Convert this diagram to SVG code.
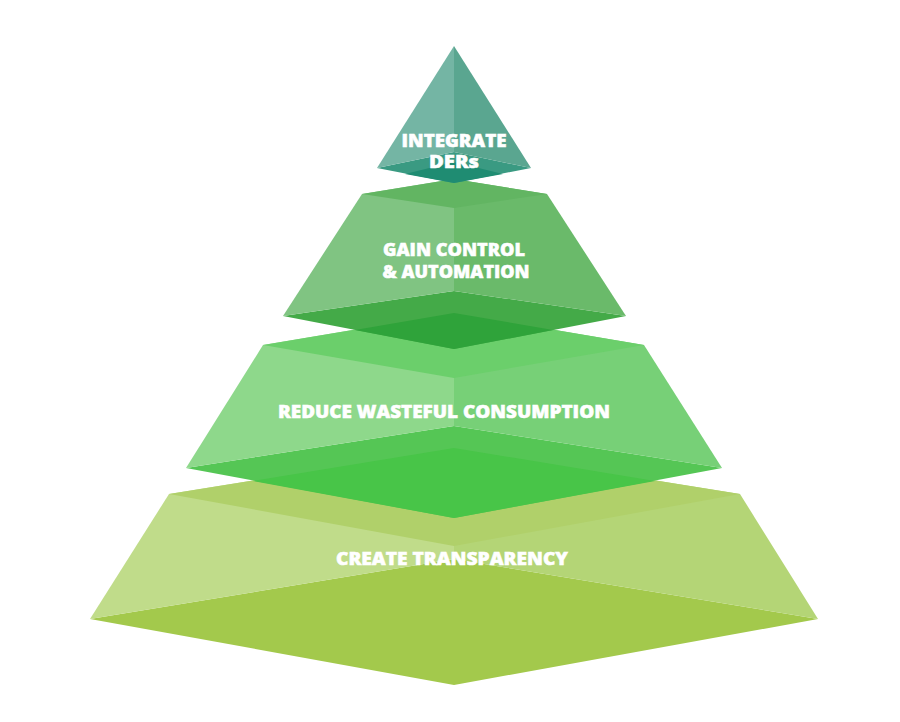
<svg xmlns="http://www.w3.org/2000/svg" width="900" height="722" viewBox="0 0 900 722">
  <style>
    .lbl { font-family: "Open Sans", "Roboto", "Liberation Sans", sans-serif; font-weight: 800; font-size: 17px; fill: #ffffff; stroke: #ffffff; stroke-width: 0.5; text-anchor: middle; }
  </style>
  <rect width="900" height="722" fill="#ffffff"/>

  <g id="level4">
    <polygon points="90,619 454,559 818,619 454,685" fill="#a3c94c"/>
    <polygon points="169,494 454,448 454,559 90,619" fill="#c0dc8a"/>
    <polygon points="454,448 740,494 818,619 454,559" fill="#b4d576"/>
    <polygon points="169,494 454,448 740,494 454,546" fill="#b0d06a"/>
    <text class="lbl" x="452" y="565" textLength="232" lengthAdjust="spacingAndGlyphs">CREATE TRANSPARENCY</text>
  </g>

  <g id="level3">
    <polygon points="186,468 454,426 722,468 454,518" fill="#55c655"/>
    <polygon points="253,481 454,448 655,481 454,518" fill="#48c548"/>
    <polygon points="263,345 454,313 454,426 186,468" fill="#8ed88b"/>
    <polygon points="454,313 644,345 722,468 454,426" fill="#77d077"/>
    <polygon points="263,345 454,313 644,345 454,378" fill="#6bcf6b"/>
    <text class="lbl" x="444" y="418" textLength="332" lengthAdjust="spacingAndGlyphs">REDUCE WASTEFUL CONSUMPTION</text>
  </g>

  <g id="level2">
    <polygon points="283,316 454,291 626,316 454,349" fill="#44aa48"/>
    <polygon points="355,330 454,313 553,330 454,349" fill="#2fa33a"/>
    <polygon points="362,194 454,179 454,291 283,316" fill="#80c482"/>
    <polygon points="454,179 547,194 626,316 454,291" fill="#6aba6a"/>
    <polygon points="362,194 454,179 547,194 454,208" fill="#62b562"/>
    <text class="lbl" x="454" y="256" textLength="142" lengthAdjust="spacingAndGlyphs">GAIN CONTROL</text>
    <text class="lbl" x="456" y="278" textLength="147" lengthAdjust="spacingAndGlyphs">&amp; AUTOMATION</text>
  </g>

  <g id="level1">
    <polygon points="377,168 454,152 531,168 454,183" fill="#3a9a82"/>
    <polygon points="405,174 454,162 503,174 454,183" fill="#1f8c72"/>
    <polygon points="454,46 377,168 454,152" fill="#74b5a4"/>
    <polygon points="454,46 454,152 531,168" fill="#5aa690"/>
    <text class="lbl" x="454" y="147" textLength="105" lengthAdjust="spacingAndGlyphs">INTEGRATE</text>
    <text class="lbl" x="454" y="168" textLength="50" lengthAdjust="spacingAndGlyphs">DERs</text>
  </g>
</svg>
